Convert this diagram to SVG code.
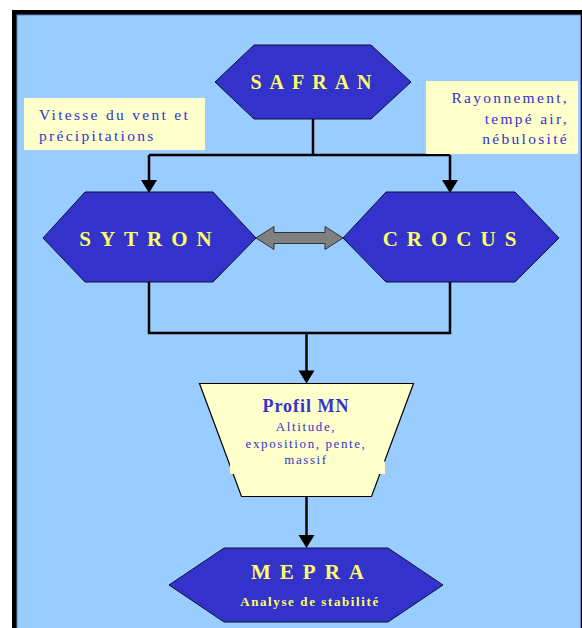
<svg xmlns="http://www.w3.org/2000/svg" width="582" height="628" viewBox="0 0 582 628">
<style>
.hex{fill:#3333CC;stroke:#111133;stroke-width:1}
.ht{font-family:"Liberation Serif",serif;font-weight:bold;fill:#FFFF66;text-anchor:middle}
.box{fill:#FFFFCC}
.bt{font-family:"Liberation Serif",serif;fill:#3333CC;font-size:15.5px;letter-spacing:2.3px}
.ln{fill:none;stroke:#000;stroke-width:2.5}
.ah{fill:#000}
</style>
<rect x="12" y="10" width="580" height="630" fill="#000"/>
<rect x="17" y="15" width="563.5" height="630" fill="#99CCFF" stroke="#6688BB" stroke-width="1"/>

<g id="connectors">
<path class="ln" d="M313,119 V155"/>
<path class="ln" d="M149,155 H450"/>
<path class="ln" d="M149,155 V182"/>
<path class="ln" d="M450,155 V182"/>
<path class="ln" d="M149,282 V333 H450 V282"/>
<path class="ln" d="M306.5,333 V372"/>
<path class="ln" d="M306.5,497 V537"/>
<polygon points="256,238 274,226.5 274,232.5 325,232.5 325,226.5 343,238 325,249.5 325,243.5 274,243.5 274,249.5" fill="#808080" stroke="#333" stroke-width="1"/>
<polygon class="ah" points="141,180 157,180 149,193"/>
<polygon class="ah" points="442,180 458,180 450,193"/>
<polygon class="ah" points="298.5,370.5 314.5,370.5 306.5,383.5"/>
<polygon class="ah" points="298.5,535 314.5,535 306.5,548"/>
</g>

<g id="note-left">
<rect class="box" x="24" y="98" width="181" height="52"/>
<text class="bt" x="39" y="120">Vitesse du vent et</text>
<text class="bt" x="39" y="140.5">précipitations</text>
</g>

<g id="note-right">
<rect class="box" x="426" y="81" width="152" height="73"/>
<text class="bt" x="569" y="103" text-anchor="end">Rayonnement,</text>
<text class="bt" x="569" y="123.5" text-anchor="end">tempé air,</text>
<text class="bt" x="569" y="143.5" text-anchor="end">nébulosité</text>
</g>

<g id="safran">
<polygon class="hex" points="215,82 254,45 371,45 411,82 371,119 254,119"/>
<text class="ht" x="315" y="89" font-size="20" letter-spacing="8">SAFRAN</text>
</g>

<g id="sytron">
<polygon class="hex" points="43,238 85,192 213,192 256,238 213,282 85,282"/>
<text class="ht" x="150" y="246" font-size="21" letter-spacing="9">SYTRON</text>
</g>

<g id="crocus">
<polygon class="hex" points="343,238 386,192 515,192 559,238 515,282 386,282"/>
<text class="ht" x="454" y="246" font-size="21" letter-spacing="9">CROCUS</text>
</g>

<g id="profil">
<polygon points="199.5,383.5 413.5,383.5 371.5,496.5 241.5,496.5" fill="#FFFFCC" stroke="#000" stroke-width="1.2"/>
<rect x="230" y="461.5" width="155" height="12.5" fill="#FFFFCC"/>
<text x="306" y="411.5" font-family="'Liberation Serif',serif" font-weight="bold" font-size="18" fill="#3333CC" text-anchor="middle" letter-spacing="1">Profil MN</text>
<text x="306" y="430.5" font-family="'Liberation Serif',serif" font-size="13" fill="#3333CC" text-anchor="middle" letter-spacing="1.6">Altitude,</text>
<text x="306" y="448" font-family="'Liberation Serif',serif" font-size="13" fill="#3333CC" text-anchor="middle" letter-spacing="1.6">exposition, pente,</text>
<text x="306" y="464" font-family="'Liberation Serif',serif" font-size="13" fill="#3333CC" text-anchor="middle" letter-spacing="1.6">massif</text>
</g>

<g id="mepra">
<polygon class="hex" points="169,585 224,548 388,548 443,585 388,622 224,622"/>
<text class="ht" x="312" y="579" font-size="21" letter-spacing="9">MEPRA</text>
<text class="ht" x="310" y="606" font-size="13" letter-spacing="1.6">Analyse de stabilité</text>
</g>
</svg>
